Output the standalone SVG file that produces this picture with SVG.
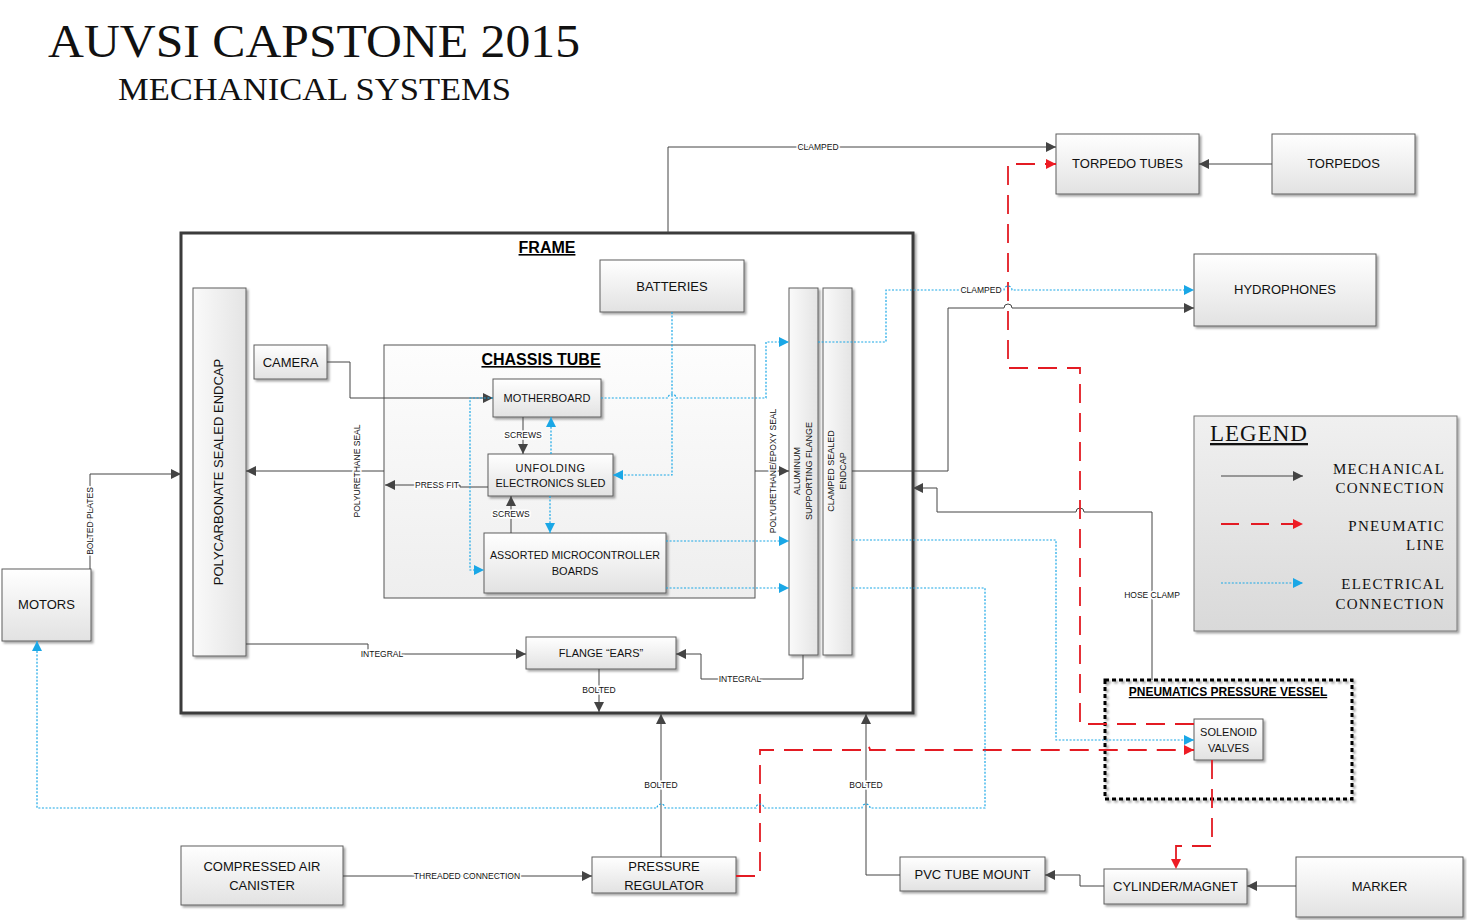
<svg xmlns="http://www.w3.org/2000/svg" width="1467" height="920" viewBox="0 0 1467 920">
<defs>
<linearGradient id="gBox" x1="0" y1="0" x2="0" y2="1"><stop offset="0" stop-color="#ffffff"/><stop offset="1" stop-color="#e2e2e2"/></linearGradient>
<linearGradient id="gLight" x1="0" y1="0" x2="0" y2="1"><stop offset="0" stop-color="#fdfdfd"/><stop offset="1" stop-color="#eeeeee"/></linearGradient>
<linearGradient id="gBar" x1="0" y1="0" x2="1" y2="0"><stop offset="0" stop-color="#fafafa"/><stop offset="1" stop-color="#e4e4e4"/></linearGradient>
<linearGradient id="gLeg" x1="0" y1="0" x2="0" y2="1"><stop offset="0" stop-color="#f0f0f0"/><stop offset="1" stop-color="#d9d9d9"/></linearGradient>
<filter id="sh" x="-10%" y="-10%" width="130%" height="130%"><feDropShadow dx="2" dy="2" stdDeviation="1.2" flood-color="#000" flood-opacity="0.35"/></filter>
<marker id="aG" viewBox="0 0 10 10" refX="10" refY="5" markerWidth="10" markerHeight="10" markerUnits="userSpaceOnUse" orient="auto"><path d="M0,0 L10,5 L0,10 z" fill="#444"/></marker>
<marker id="aR" viewBox="0 0 10 10" refX="10" refY="5" markerWidth="10" markerHeight="10" markerUnits="userSpaceOnUse" orient="auto"><path d="M0,0 L10,5 L0,10 z" fill="#ee1c25"/></marker>
<marker id="aB" viewBox="0 0 10 10" refX="10" refY="5" markerWidth="10" markerHeight="10" markerUnits="userSpaceOnUse" orient="auto"><path d="M0,0 L10,5 L0,10 z" fill="#1aa7e6"/></marker>
<style>
.box{fill:url(#gBox);stroke:#5e5e5e;stroke-width:1;filter:url(#sh)}
.t{font-family:"Liberation Sans",Arial,sans-serif;font-size:13px;fill:#111;text-anchor:middle}
.ts{font-family:"Liberation Sans",Arial,sans-serif;font-size:11px;fill:#111;text-anchor:middle}
.tv{font-family:"Liberation Sans",Arial,sans-serif;font-size:9px;fill:#111;text-anchor:middle}
.lbl{font-family:"Liberation Sans",Arial,sans-serif;font-size:8.5px;fill:#111;text-anchor:middle;stroke:#fff;stroke-width:3;paint-order:stroke}
.hd{font-family:"Liberation Sans",Arial,sans-serif;font-weight:bold;fill:#000;text-anchor:middle;text-decoration:underline}
.serif{font-family:"Liberation Serif","Times New Roman",serif;fill:#111}
.mech{fill:none;stroke:#444;stroke-width:1;marker-end:url(#aG)}
.pneu{fill:none;stroke:#e31b23;stroke-width:1.8;stroke-dasharray:19 10;marker-end:url(#aR)}
.elec{fill:none;stroke:#1aa7e6;stroke-width:1.2;stroke-dasharray:2 1.6;marker-end:url(#aB)}
</style>
</defs>
<rect width="1467" height="920" fill="#fff"/>

<g id="title">
<text class="serif" x="48" y="57" font-size="46" textLength="532" lengthAdjust="spacingAndGlyphs">AUVSI CAPSTONE 2015</text>
<text class="serif" x="118" y="100" font-size="32" textLength="393" lengthAdjust="spacingAndGlyphs">MECHANICAL SYSTEMS</text>
</g>

<g id="frame">
<rect x="181" y="233" width="732" height="480" fill="#fff" stroke="#3a3a3a" stroke-width="3" filter="url(#sh)"/>
<text class="hd" x="547" y="253" font-size="16">FRAME</text>
</g>

<g id="chassis-tube">
<rect x="384" y="345" width="371" height="253" fill="url(#gLight)" stroke="#555" stroke-width="1"/>
<text class="hd" x="541" y="365" font-size="16">CHASSIS TUBE</text>
</g>

<g id="polycarbonate-endcap">
<rect class="box" x="193" y="288" width="53" height="368" style="fill:url(#gBar)"/>
<text class="t" transform="translate(223,472) rotate(-90)" font-size="13.5">POLYCARBONATE SEALED ENDCAP</text>
</g>

<g id="camera">
<rect class="box" x="254" y="345" width="73" height="34"/>
<text class="t" x="290.5" y="367">CAMERA</text>
</g>

<g id="batteries">
<rect class="box" x="600" y="260" width="144" height="52"/>
<text class="t" x="672" y="291">BATTERIES</text>
</g>

<g id="motherboard">
<rect class="box" x="493" y="379" width="108" height="38"/>
<text class="ts" x="547" y="402">MOTHERBOARD</text>
</g>

<g id="electronics-sled">
<rect class="box" x="488" y="454" width="125" height="42"/>
<text class="ts" x="550.5" y="472" letter-spacing="0.6">UNFOLDING</text>
<text class="ts" x="550.5" y="487">ELECTRONICS SLED</text>
</g>

<g id="microcontroller-boards">
<rect class="box" x="484" y="533" width="182" height="60"/>
<text class="ts" x="575" y="559" textLength="170" lengthAdjust="spacingAndGlyphs">ASSORTED MICROCONTROLLER</text>
<text class="ts" x="575" y="575">BOARDS</text>
</g>

<g id="aluminum-flange">
<rect class="box" x="789" y="288" width="29" height="367" style="fill:url(#gBar)"/>
<text class="tv" transform="translate(800,471) rotate(-90)">ALUMINUM</text>
<text class="tv" transform="translate(812,471) rotate(-90)">SUPPORTING FLANGE</text>
</g>

<g id="clamped-endcap">
<rect class="box" x="823" y="288" width="29" height="367" style="fill:url(#gBar)"/>
<text class="tv" transform="translate(834,471) rotate(-90)">CLAMPED SEALED</text>
<text class="tv" transform="translate(846,471) rotate(-90)">ENDCAP</text>
</g>

<g id="flange-ears">
<rect class="box" x="526" y="637" width="150" height="32"/>
<text class="ts" x="601" y="657">FLANGE “EARS”</text>
</g>

<g id="torpedo-tubes">
<rect class="box" x="1056" y="134" width="143" height="60"/>
<text class="t" x="1127.5" y="168">TORPEDO TUBES</text>
</g>

<g id="torpedos">
<rect class="box" x="1272" y="134" width="143" height="60"/>
<text class="t" x="1343.5" y="168">TORPEDOS</text>
</g>

<g id="hydrophones">
<rect class="box" x="1194" y="254" width="182" height="72"/>
<text class="t" x="1285" y="294">HYDROPHONES</text>
</g>

<g id="legend">
<rect x="1194" y="416" width="263" height="215" fill="url(#gLeg)" stroke="#777" stroke-width="1" filter="url(#sh)"/>
<text class="serif" x="1210" y="441" font-size="23" text-decoration="underline" letter-spacing="1">LEGEND</text>
<path d="M1221,476 H1303" class="mech"/>
<path d="M1221,524 H1303" class="pneu" style="stroke-dasharray:18 12"/>
<path d="M1221,583 H1303" class="elec"/>
<g class="serif" font-size="15" text-anchor="end" letter-spacing="1.2">
<text x="1445" y="474">MECHANICAL</text>
<text x="1445" y="493">CONNECTION</text>
<text x="1445" y="531">PNEUMATIC</text>
<text x="1445" y="550">LINE</text>
<text x="1445" y="589">ELECTRICAL</text>
<text x="1445" y="609">CONNECTION</text>
</g>
</g>

<g id="pneumatics-vessel">
<rect x="1105" y="680" width="247" height="119" fill="none" stroke="#000" stroke-width="3" stroke-dasharray="4 3" filter="url(#sh)"/>
<text class="hd" x="1228" y="696" font-size="12">PNEUMATICS PRESSURE VESSEL</text>
</g>

<g id="solenoid-valves">
<rect class="box" x="1194" y="719" width="69" height="41"/>
<text class="ts" x="1228.5" y="736">SOLENOID</text>
<text class="ts" x="1228.5" y="752">VALVES</text>
</g>

<g id="motors">
<rect class="box" x="2" y="569" width="89" height="72"/>
<text class="t" x="46.5" y="609">MOTORS</text>
</g>

<g id="compressed-air">
<rect class="box" x="181" y="846" width="162" height="59"/>
<text class="t" x="262" y="871">COMPRESSED AIR</text>
<text class="t" x="262" y="890">CANISTER</text>
</g>

<g id="pressure-regulator">
<rect class="box" x="592" y="857" width="144" height="36"/>
<text class="t" x="664" y="871">PRESSURE</text>
<text class="t" x="664" y="890">REGULATOR</text>
</g>

<g id="pvc-tube-mount">
<rect class="box" x="900" y="857" width="145" height="34"/>
<text class="t" x="972.5" y="879">PVC TUBE MOUNT</text>
</g>

<g id="cylinder-magnet">
<rect class="box" x="1104" y="869" width="143" height="35"/>
<text class="t" x="1175.5" y="891">CYLINDER/MAGNET</text>
</g>

<g id="marker">
<rect class="box" x="1296" y="857" width="167" height="60"/>
<text class="t" x="1379.5" y="891">MARKER</text>
</g>

<g id="connectors">
<!-- mechanical -->
<path class="mech" d="M668,233 V147 H1056"/>
<path class="mech" d="M1272,164 H1199"/>
<path class="mech" d="M327,362 H350 V398 H493"/>
<path class="mech" d="M523,417 V454"/>
<path class="mech" d="M511,533 V496"/>
<path class="mech" d="M488,487 H460 V485 H385"/>
<path class="mech" d="M384,471 H246"/>
<path class="mech" d="M755,471 H789"/>
<path class="mech" d="M852,471 H948 V308 H1004 A4,4 0 0 1 1012,308 H1194"/>
<path class="mech" d="M246,644 H368 V654 H526"/>
<path class="mech" d="M803,655 V679 H701 V654 H676"/>
<path class="mech" d="M599,669 V712"/>
<path class="mech" d="M90,569 V474 H181"/>
<path class="mech" d="M661,857 V714"/>
<path class="mech" d="M900,875 H866 V714"/>
<path class="mech" d="M1104,886 H1080 V875 H1045"/>
<path class="mech" d="M1296,886 H1247"/>
<path class="mech" d="M343,876 H592"/>
<path class="mech" d="M1152,680 V512 H1084 A4,4 0 0 0 1076,512 H937 V488 H913"/>
<!-- pneumatic -->
<path class="pneu" d="M1194,724 H1080 V368 H1008 V164 H1056"/>
<path class="pneu" d="M736,876 H760 V750 H862 A4,4 0 0 1 870,750 H1194"/>
<path class="pneu" d="M1212,760 V846 H1176 V869"/>
<!-- electrical -->
<path class="elec" d="M601,398 H668 A4,4 0 0 1 676,398 H766 V342 H789"/>
<path class="elec" d="M672,312 V475 H613"/>
<path class="elec" d="M493,398 H470 V570 H484"/>
<path class="elec" d="M551,454 V417"/>
<path class="elec" d="M550,496 V533"/>
<path class="elec" d="M666,541 H789"/>
<path class="elec" d="M666,588 H789"/>
<path class="elec" d="M818,342 H886 V290 H1004 A4,4 0 0 1 1012,290 H1194"/>
<path class="elec" d="M852,540 H1056 V740 H1194"/>
<path class="elec" d="M852,588 H985 V808 H870 A4,4 0 0 0 862,808 H764 A4,4 0 0 0 756,808 H665 A4,4 0 0 0 657,808 H37 V641"/>
<!-- labels -->
<text class="lbl" x="818" y="150">CLAMPED</text>
<text class="lbl" x="981" y="293">CLAMPED</text>
<text class="lbl" x="523" y="438">SCREWS</text>
<text class="lbl" x="511" y="517">SCREWS</text>
<text class="lbl" x="437" y="488">PRESS FIT</text>
<text class="lbl" transform="translate(360,471) rotate(-90)">POLYURETHANE SEAL</text>
<text class="lbl" transform="translate(776,471) rotate(-90)">POLYURETHANE/EPOXY SEAL</text>
<text class="lbl" x="382" y="657">INTEGRAL</text>
<text class="lbl" x="740" y="682">INTEGRAL</text>
<text class="lbl" x="599" y="693">BOLTED</text>
<text class="lbl" transform="translate(93,521) rotate(-90)">BOLTED PLATES</text>
<text class="lbl" x="661" y="788">BOLTED</text>
<text class="lbl" x="866" y="788">BOLTED</text>
<text class="lbl" x="467" y="879">THREADED CONNECTION</text>
<text class="lbl" x="1152" y="598">HOSE CLAMP</text>
</g>
</svg>
